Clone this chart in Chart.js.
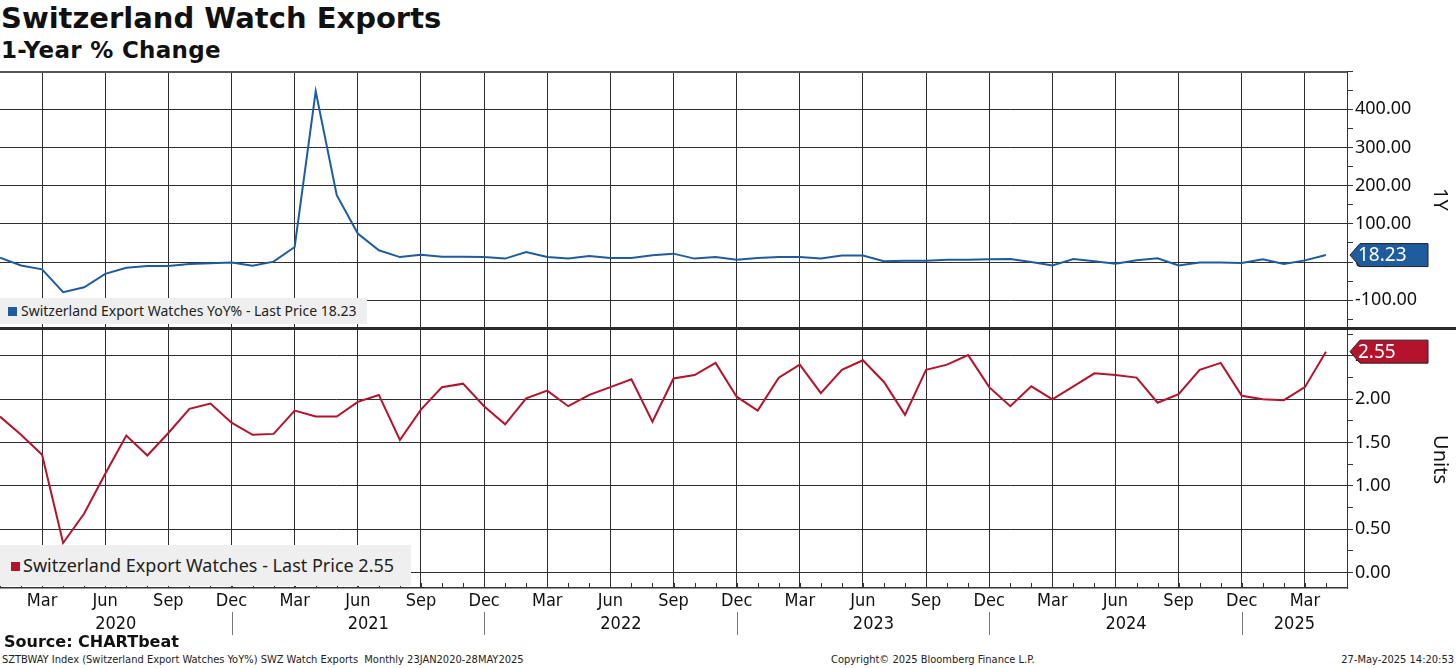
<!DOCTYPE html>
<html>
<head>
<meta charset="utf-8">
<script src="https://cdn.jsdelivr.net/npm/chart.js@4.4.1/dist/chart.umd.min.js"></script>
<style>
  html, body { margin: 0; padding: 0; background: #fff; }
  body { width: 1456px; height: 668px; position: relative; overflow: hidden; font-family: "Noto Sans", sans-serif; color: #111; }
  .abs { position: absolute; white-space: nowrap; }
  #title { left: 1px; top: 1px; font: bold 29px "DejaVu Sans"; }
  #subtitle { left: 1px; top: 37px; font: bold 23px "DejaVu Sans"; letter-spacing: 0.3px; }
  #topWrap { left: 0; top: 71px; width: 1456px; height: 256px; }
  #botWrap { left: 0; top: 330px; width: 1456px; height: 310px; }
  #sep { left: 0; top: 327px; width: 1456px; height: 3px; background: #2a2a2a; }
  .legend { background: #efefef; color: #222; }
  .legend .sq { position: absolute; }
  #legTop { left: 0; top: 298px; width: 367px; height: 26px; font-size: 14px; line-height: 26px; }
  #legTop .sq { left: 8px; top: 9px; width: 9px; height: 9px; background: #1f5c9e; }
  #legTop span.t { position: absolute; left: 21px; }
  #legBot { left: 0; top: 545px; width: 411px; height: 41px; font-size: 18px; line-height: 41px; }
  #legBot .sq { left: 11px; top: 17px; width: 9px; height: 9px; background: #b5122b; }
  #legBot span.t { position: absolute; left: 23px; }
  .axTitle { font-size: 20px; color: #111; transform-origin: center center; transform: rotate(90deg); }
  #ax1 { left: 1426px; top: 186px; width: 30px; text-align: center; }
  #ax2 { left: 1413px; top: 446px; width: 56px; text-align: center; }
  #source { left: 4px; top: 632px; font: bold 16px "DejaVu Sans"; }
  .foot { top: 653px; font: 11px "DejaVu Sans Condensed", "DejaVu Sans"; color: #222; }
  #foot1 { left: 2px; }
  #foot2 { left: 831px; }
  #foot3 { right: 2px; }
</style>
</head>
<body>
<div class="abs" id="title">Switzerland Watch Exports</div>
<div class="abs" id="subtitle">1-Year % Change</div>

<div class="abs" id="topWrap"><canvas id="topChart" width="1456" height="256"></canvas></div>
<div class="abs" id="botWrap"><canvas id="botChart" width="1456" height="310"></canvas></div>
<div class="abs" id="sep"></div>

<div class="abs legend" id="legTop"><div class="sq"></div><span class="t" id="legTopText"></span></div>
<div class="abs legend" id="legBot"><div class="sq"></div><span class="t" id="legBotText"></span></div>

<div class="abs axTitle" id="ax1">1Y</div>
<div class="abs axTitle" id="ax2">Units</div>

<div class="abs" id="source">Source: CHARTbeat</div>
<div class="abs foot" id="foot1">SZTBWAY Index (Switzerland Export Watches YoY%) SWZ Watch Exports&nbsp; Monthly 23JAN2020-28MAY2025</div>
<div class="abs foot" id="foot2">Copyright&copy; 2025 Bloomberg Finance L.P.</div>
<div class="abs foot" id="foot3">27-May-2025 14:20:53</div>

<script>
const months = [
  "Jan 2020", "Feb 2020", "Mar 2020", "Apr 2020", "May 2020", "Jun 2020", "Jul 2020", "Aug 2020", "Sep 2020", "Oct 2020", "Nov 2020", "Dec 2020",
  "Jan 2021", "Feb 2021", "Mar 2021", "Apr 2021", "May 2021", "Jun 2021", "Jul 2021", "Aug 2021", "Sep 2021", "Oct 2021", "Nov 2021", "Dec 2021",
  "Jan 2022", "Feb 2022", "Mar 2022", "Apr 2022", "May 2022", "Jun 2022", "Jul 2022", "Aug 2022", "Sep 2022", "Oct 2022", "Nov 2022", "Dec 2022",
  "Jan 2023", "Feb 2023", "Mar 2023", "Apr 2023", "May 2023", "Jun 2023", "Jul 2023", "Aug 2023", "Sep 2023", "Oct 2023", "Nov 2023", "Dec 2023",
  "Jan 2024", "Feb 2024", "Mar 2024", "Apr 2024", "May 2024", "Jun 2024", "Jul 2024", "Aug 2024", "Sep 2024", "Oct 2024", "Nov 2024", "Dec 2024",
  "Jan 2025", "Feb 2025", "Mar 2025", "Apr 2025"
];
const years = ["2020", "2021", "2022", "2023", "2024", "2025"];
const quarterMonths = ["Mar", "Jun", "Sep", "Dec"];

// Switzerland Export Watches YoY%
const yoyValues = [
  11.4, -8.8, -19, -79, -66, -31, -15, -10.5, -10.5, -5, -3, -1,
  -9.6, 1, 39.5, 447, 175, 74.6, 30.7, 13, 19, 14, 14, 13,
  9, 26, 13, 9, 16, 10.5, 10.5, 17.5, 22, 9, 13, 6,
  10.5, 13, 13, 9, 17, 17, 2, 3.5, 3.5, 6, 6, 7,
  8, 0, -9, 8, 2, -4.4, 4.4, 9.6, -9, -1, -1, -2.6,
  7, -5, 4.4, 18.23
];
// Switzerland Export Watches (units)
const unitValues = [
  1.80, 1.59, 1.36, 0.34, 0.68, 1.14, 1.58, 1.35, 1.61, 1.89, 1.95, 1.73,
  1.59, 1.60, 1.87, 1.80, 1.80, 1.97, 2.05, 1.53, 1.88, 2.14, 2.18, 1.92,
  1.71, 2.01, 2.10, 1.92, 2.05, 2.14, 2.23, 1.74, 2.24, 2.28, 2.42, 2.03,
  1.87, 2.25, 2.40, 2.07, 2.34, 2.45, 2.20, 1.82, 2.34, 2.40, 2.51, 2.14,
  1.92, 2.15, 2.00, 2.15, 2.30, 2.28, 2.25, 1.96, 2.06, 2.34, 2.42, 2.04,
  2.00, 1.99, 2.14, 2.55
];

const yoyTicks = [-100, 0, 100, 200, 300, 400];
const unitTicks = [0, 0.5, 1, 1.5, 2, 2.5];

const yoyName = "Switzerland Export Watches YoY%";
const unitName = "Switzerland Export Watches";
const blue = "#1f5c9e";
const red = "#b5122b";
const gridCol = "#2e2e2e";

document.getElementById("legTopText").textContent = `${yoyName} - Last Price ${yoyValues[yoyValues.length - 1].toFixed(2)}`;
document.getElementById("legBotText").textContent = `${unitName} - Last Price ${unitValues[unitValues.length - 1].toFixed(2)}`;

const clear = "rgba(0,0,0,0)";
const isQuarter = v => quarterMonths.includes((months[v] || "").split(" ")[0]);

function monthTicks(axis) {
  axis.ticks = [];
  for (let i = 0; i <= months.length; i++) axis.ticks.push({ value: i });
}

function valueTicks(major, step, min, max) {
  return axis => {
    axis.ticks = [];
    for (let v = Math.ceil(min / step) * step; v <= max + 1e-9; v += step) {
      const r = Math.round(v * 100) / 100;
      axis.ticks.push({ value: r, major: major.includes(r) });
    }
  };
}

const tagPlugin = {
  id: "lastTag",
  afterDraw(chart, args, opts) {
    const { ctx, chartArea } = chart;
    const y = chart.scales.y.getPixelForValue(opts.value);
    const x0 = chartArea.right + 3, x1 = x0 + 78, h = 23;
    ctx.save();
    ctx.beginPath();
    ctx.moveTo(x0, y);
    ctx.lineTo(x0 + 10, y - h / 2);
    ctx.lineTo(x1, y - h / 2);
    ctx.lineTo(x1, y + h / 2);
    ctx.lineTo(x0 + 10, y + h / 2);
    ctx.closePath();
    ctx.fillStyle = opts.color;
    ctx.fill();
    ctx.strokeStyle = "#222";
    ctx.lineWidth = 1;
    ctx.stroke();
    ctx.fillStyle = "#fff";
    ctx.font = '19px "Noto Sans"';
    ctx.textBaseline = "middle";
    ctx.fillText(opts.value.toFixed(2), x0 + 8, y + 1);
    ctx.restore();
  }
};

const framePlugin = {
  id: "frame",
  afterDraw(chart, args, opts) {
    const { ctx, chartArea } = chart;
    ctx.save();
    ctx.strokeStyle = "#555";
    if (opts.top) {
      ctx.lineWidth = 2;
      ctx.beginPath();
      ctx.moveTo(chartArea.left, chartArea.top + 1);
      ctx.lineTo(chartArea.right, chartArea.top + 1);
      ctx.stroke();
    }
    if (opts.months) {
      // inward month ticks + year row
      const xs = chart.scales.x;
      ctx.strokeStyle = "#333";
      ctx.lineWidth = 1;
      months.forEach((m, i) => {
        const x = Math.round(xs.getPixelForValue(i)) + 0.5;
        ctx.beginPath();
        ctx.moveTo(x, chartArea.bottom);
        ctx.lineTo(x, chartArea.bottom - 5);
        ctx.stroke();
      });
      ctx.fillStyle = "#111";
      ctx.font = '18px "DejaVu Sans Condensed", "DejaVu Sans"';
      ctx.textAlign = "center";
      ctx.textBaseline = "middle";
      years.forEach(yr => {
        const idx = months.map((m, i) => m.endsWith(yr) ? i : -1).filter(i => i >= 0);
        const first = idx[0], last = idx[idx.length - 1];
        const cx = (xs.getPixelForValue(first) + xs.getPixelForValue(last)) / 2;
        ctx.fillText(yr, cx, chartArea.bottom + 36);
        if (months[last].startsWith("Dec")) {
          const sx = Math.round(xs.getPixelForValue(last)) + 0.5;
          ctx.strokeStyle = "#777";
          ctx.beginPath();
          ctx.moveTo(sx, chartArea.bottom + 24);
          ctx.lineTo(sx, chartArea.bottom + 47);
          ctx.stroke();
        }
      });
    }
    ctx.restore();
  }
};

function makeChart(id, values, color, min, max, major, step, bottomAxis) {
  return new Chart(document.getElementById(id), {
    type: "line",
    data: {
      datasets: [{
        data: values.map((v, i) => ({ x: i, y: v })),
        borderColor: color,
        borderWidth: 2,
        pointRadius: 0,
        tension: 0
      }]
    },
    options: {
      responsive: false,
      animation: false,
      events: [],
      layout: { padding: 0, autoPadding: false },
      plugins: {
        legend: { display: false },
        tooltip: { enabled: false },
        lastTag: { value: values[values.length - 1], color: color },
        frame: { top: !bottomAxis, months: bottomAxis }
      },
      scales: {
        x: {
          type: "linear",
          min: 0,
          max: months.length,
          afterBuildTicks: monthTicks,
          afterFit: s => { s.height = bottomAxis ? 52 : 0; s.paddingLeft = 0; s.paddingRight = 0; },
          border: { display: bottomAxis, color: "#333", width: 1.5 },
          grid: {
            drawTicks: false,
            lineWidth: 1,
            color: c => (c.tick && isQuarter(c.tick.value)) ? gridCol : clear
          },
          ticks: {
            display: bottomAxis,
            autoSkip: false,
            maxRotation: 0,
            padding: 3,
            color: "#111",
            font: { family: '"DejaVu Sans Condensed", "DejaVu Sans"', size: 18 },
            callback: v => isQuarter(v) ? months[v].split(" ")[0] : ""
          }
        },
        y: {
          position: "right",
          min: min,
          max: max,
          afterBuildTicks: valueTicks(major, step, min, max),
          afterFit: s => { s.width = 109; s.paddingTop = 0; s.paddingBottom = 0; },
          border: { display: true, color: "#333", width: 1 },
          grid: {
            lineWidth: 1,
            tickLength: 6,
            tickColor: "#333",
            color: c => (c.tick && c.tick.major) ? gridCol : clear
          },
          ticks: {
            autoSkip: false,
            padding: 2,
            color: "#111",
            font: { family: '"Noto Sans"', size: 18 },
            callback: function (v) { return major.includes(Math.round(v * 100) / 100) ? v.toFixed(2) : ""; }
          }
        }
      }
    },
    plugins: [tagPlugin, framePlugin]
  });
}

makeChart("topChart", yoyValues, blue, -170, 500, yoyTicks, 50, false);
makeChart("botChart", unitValues, red, -0.18, 2.8, unitTicks, 0.25, true);
</script>
</body>
</html>
